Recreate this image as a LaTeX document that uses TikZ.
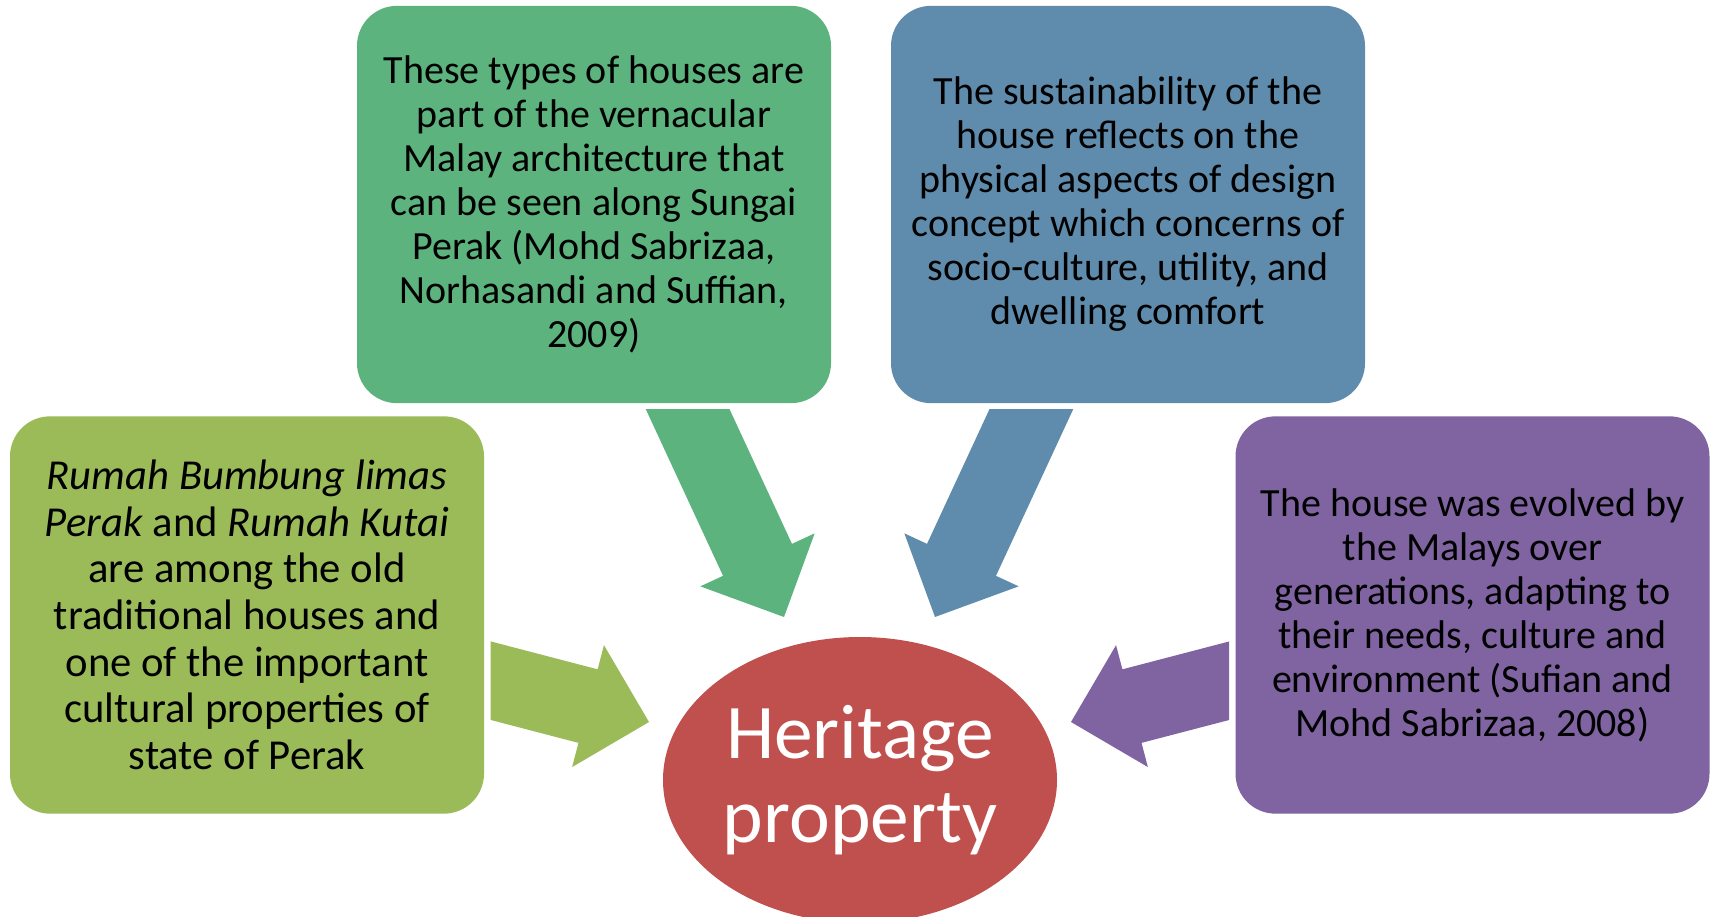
\documentclass[tikz,border=0pt]{standalone}
\usepackage{fontspec}
\setmainfont{Carlito}
\usetikzlibrary{calc,shapes.geometric}

\definecolor{olivebox}{RGB}{155,187,89}
\definecolor{greenbox}{RGB}{92,179,126}
\definecolor{bluebox}{RGB}{95,140,172}
\definecolor{purplebox}{RGB}{128,100,162}
\definecolor{hubred}{RGB}{192,80,77}

\tikzset{every picture/.style={line width=0.75pt}}
\tikzset{
  infobox/.style={rounded corners=30pt, minimum width=355.5pt, minimum height=298pt, inner sep=0pt, align=center, text=black, font=\fontsize{30}{33}\selectfont},
  hub/.style={ellipse, fill=hubred, minimum width=295.5pt, minimum height=214.5pt, inner sep=0pt, align=center, text=white, font=\fontsize{58}{63}\selectfont}
}

% block arrow: tail, tip, colour
\newcommand{\blockarrow}[3]{%
  \coordinate (#1-base) at ($(#2)!47.25pt!(#1)$);
  \fill[#3] ($(#1)!28.5pt!90:(#2)$) -- ($(#1-base)!28.5pt!90:(#2)$) -- ($(#1-base)!47.25pt!90:(#2)$) -- (#2)
    -- ($(#1-base)!47.25pt!-90:(#2)$) -- ($(#1-base)!28.5pt!-90:(#2)$) -- ($(#1)!28.5pt!-90:(#2)$) -- cycle ;
}

\begin{document}
\begin{tikzpicture}[x=0.75pt,y=0.75pt,yscale=-1,xscale=1]
\path[use as bounding box] (0,0) rectangle (1711,917);

%Shape: Rounded Rect [left]
\node[infobox, fill=olivebox, font=\fontsize{32}{35}\selectfont] (limas) at (247,615) {\textit{Rumah Bumbung limas}\\ \textit{Perak} and \textit{Rumah Kutai}\\ are among the old\\ traditional houses and\\ one of the important\\ cultural properties of\\ state of Perak};
%Shape: Rounded Rect [top left]
\node[infobox, fill=greenbox] (vernacular) at (594,204.5) {These types of houses are\\ part of the vernacular\\ Malay architecture that\\ can be seen along Sungai\\ Perak (Mohd Sabrizaa,\\ Norhasandi and Suffian,\\ 2009)};
%Shape: Rounded Rect [top right]
\node[infobox, fill=bluebox] (sustain) at (1128,204.5) {The sustainability of the\\ house reflects on the\\ physical aspects of design\\ concept which concerns of\\ socio-culture, utility, and\\ dwelling comfort};
%Shape: Rounded Rect [right]
\node[infobox, fill=purplebox] (evolved) at (1472.5,615) {The house was evolved by\\ the Malays over\\ generations, adapting to\\ their needs, culture and\\ environment (Sufian and\\ Mohd Sabrizaa, 2008)};
%Shape: Ellipse
\node[hub] (hub) at (860,780) {Heritage\\ property};

%Block Arrows
\coordinate (gtail) at (674.6,381);
\coordinate (gtip) at (784,617);
\coordinate (btail) at (1044.4,381);
\coordinate (btip) at (935,617);
\coordinate (ltail) at (455.5,671.5);
\coordinate (ltip) at (649,722);
\coordinate (rtail) at (1264.5,671.5);
\coordinate (rtip) at (1071,722);

\begin{scope}
\clip ($(vernacular.south west)+(-100,6)$) rectangle ($(sustain.south east)+(100,300)$);
\blockarrow{gtail}{gtip}{greenbox}
\blockarrow{btail}{btip}{bluebox}
\end{scope}
\begin{scope}
\clip ($(limas.north east)+(6,0)$) rectangle (hub.south);
\blockarrow{ltail}{ltip}{olivebox}
\end{scope}
\begin{scope}
\clip ($(evolved.north west)+(-6,0)$) rectangle (hub.south);
\blockarrow{rtail}{rtip}{purplebox}
\end{scope}

\end{tikzpicture}
\end{document}
